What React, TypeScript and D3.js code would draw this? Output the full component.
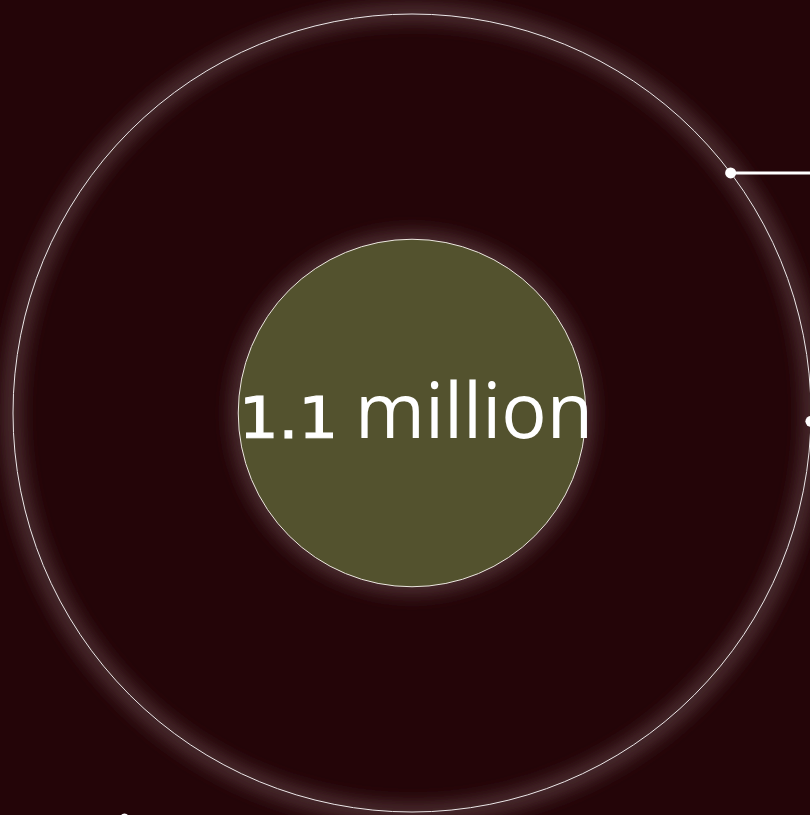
import React from "react";
import * as d3 from "d3";

// Data
const circleNames = ["total", "highlight"];
const circleValues = [5.8, 1.1]; // millions
const valueLabels = ["1.1"];
const unitLabels = ["million"];
const calloutAngles = [-37, 1.2]; // degrees on outer circle

const W = 810;
const H = 815;
const cx = 412;
const cy = 413;

export default function App() {
  const r = d3.scaleSqrt().domain([0, circleValues[0]]).range([0, 399]);
  const rOuter = r(circleValues[0]);
  const rInner = r(circleValues[1]);
  const pts = calloutAngles.map((a) => {
    const t = (a * Math.PI) / 180;
    return [cx + rOuter * Math.cos(t), cy + rOuter * Math.sin(t)];
  });
  return (
    <svg
      width={W}
      height={H}
      style={{ position: "absolute", left: 0, top: 0, display: "block" }}
    >
      <defs>
        <filter id="glow" x="-20%" y="-20%" width="140%" height="140%">
          <feGaussianBlur stdDeviation="8" />
        </filter>
      </defs>
      <rect width={W} height={H} fill="#240508" />
      {/* glows */}
      <circle
        cx={cx}
        cy={cy}
        r={rOuter + 1}
        fill="none"
        stroke="#4a2a2d"
        strokeWidth={20}
        filter="url(#glow)"
      />
      <circle
        cx={cx}
        cy={cy}
        r={rInner + 9}
        fill="#4a2a2d"
        filter="url(#glow)"
      />
      {/* outer circle */}
      <circle
        cx={cx}
        cy={cy}
        r={rOuter}
        fill="none"
        stroke="#ece8e8"
        strokeWidth={1}
      />
      {/* inner circle */}
      <circle
        cx={cx}
        cy={cy}
        r={rInner}
        fill="#53522e"
        stroke="#ece8e0"
        strokeWidth={1}
      />
      {/* callouts */}
      <line
        x1={pts[0][0]}
        y1={pts[0][1]}
        x2={W + 5}
        y2={pts[0][1]}
        stroke="#ffffff"
        strokeWidth={3}
      />
      {pts.map((p, i) => (
        <circle key={i} cx={p[0]} cy={p[1]} r={5.5} fill="#ffffff" />
      ))}
      <circle cx={124.5} cy={817.5} r={4} fill="#ffffff" />
      {/* label */}
      <text fill="#ffffff">
        <tspan
          x={239}
          y={438}
          fontFamily="DejaVu Sans"
          fontSize={57}
          stroke="#ffffff"
          strokeWidth={1.2}
          textLength={99}
          lengthAdjust="spacingAndGlyphs"
        >
          {valueLabels[0]}
        </tspan>
        <tspan
          x={355}
          y={438}
          fontFamily="Open Sans"
          fontSize={77}
          textLength={238}
          lengthAdjust="spacingAndGlyphs"
        >
          {unitLabels[0]}
        </tspan>
      </text>
    </svg>
  );
}
